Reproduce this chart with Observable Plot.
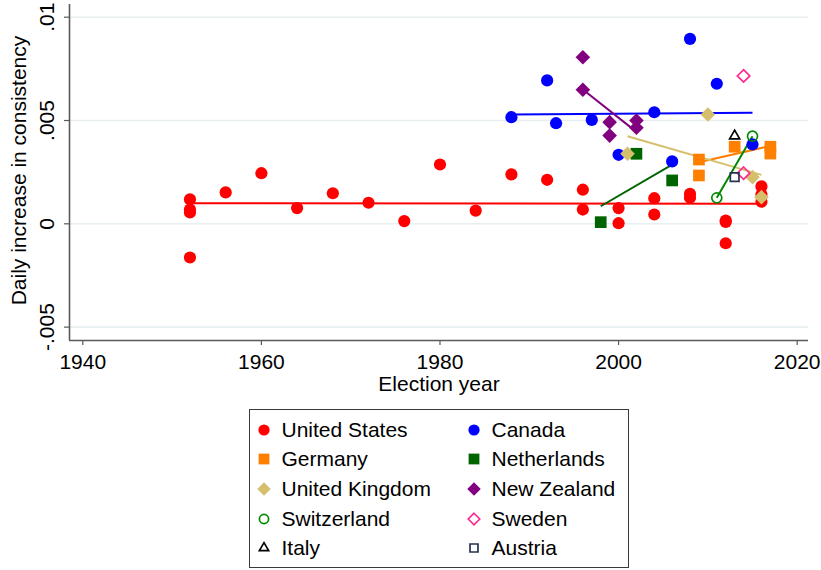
<!DOCTYPE html>
<html>
<head>
<meta charset="utf-8">
<script src="https://cdn.jsdelivr.net/npm/d3@7"></script>
<script src="https://cdn.jsdelivr.net/npm/@observablehq/plot@0.6"></script>
<style>
  html, body { margin: 0; padding: 0; background: #fff; }
  body { font-family: "Liberation Sans", Arial, Helvetica, sans-serif; }
  #wrap { position: relative; width: 821px; height: 570px; overflow: hidden; }
  #chart { position: absolute; left: 0; top: 0; }
  #legend { position: absolute; left: 249px; top: 409px; width: 380px; height: 159px;
            box-sizing: border-box; border: 1.5px solid #3a3a3a; background: #fff; }
  .lg-sym { position: absolute; width: 20px; height: 20px; overflow: visible; }
  .lg-txt { position: absolute; font-size: 21px; line-height: 1; color: #000; white-space: nowrap;
            transform: translateY(-50%); }
</style>
</head>
<body>
<div id="wrap">
  <div id="chart"></div>
  <div id="legend"></div>
</div>
<script>
// ---------------- data ----------------
const countries = ["United States", "Canada", "Germany", "Netherlands", "United Kingdom",
                   "New Zealand", "Switzerland", "Sweden", "Italy", "Austria"];

const unitedStatesYear  = [1952, 1952, 1952, 1952, 1956, 1960, 1964, 1968, 1972, 1976, 1980, 1984, 1988, 1992,
                           1996, 1996, 2000, 2000, 2004, 2004, 2008, 2008, 2012, 2012, 2012, 2016, 2016, 2016];
const unitedStatesValue = [0.00118, 0.00069, 0.00055, -0.00163, 0.00152, 0.00245, 0.00076, 0.00148, 0.00102, 0.00013,
                           0.00287, 0.00064, 0.00239, 0.00213, 0.00165, 0.00069, 0.00076, 0.00003, 0.00124, 0.00045,
                           0.00145, 0.00126, 0.00016, 0.00009, -0.00094, 0.00181, 0.00142, 0.00107];

const canadaYear  = [1988, 1992, 1993, 1997, 2000, 2004, 2006, 2008, 2011, 2015];
const canadaValue = [0.00516, 0.00694, 0.00487, 0.00503, 0.00334, 0.00540, 0.00302, 0.00895, 0.00678, 0.00384];

const germanyYear  = [2009, 2009, 2013, 2017, 2017];
const germanyValue = [0.00311, 0.00234, 0.00373, 0.00373, 0.00340];

const netherlandsYear  = [1998, 2002, 2006];
const netherlandsValue = [0.00008, 0.00339, 0.00210];

const unitedKingdomYear  = [2001, 2010, 2015, 2016];
const unitedKingdomValue = [0.00339, 0.00529, 0.00226, 0.00129];

const newZealandYear  = [1996, 1996, 1999, 1999, 2002, 2002];
const newZealandValue = [0.00806, 0.00649, 0.00492, 0.00427, 0.00500, 0.00465];

const switzerlandYear  = [2011, 2015];
const switzerlandValue = [0.00126, 0.00424];

const swedenYear  = [2014, 2014];
const swedenValue = [0.00716, 0.00245];

const italyYear  = [2013];
const italyValue = [0.00425];

const austriaYear  = [2013];
const austriaValue = [0.00226];

// fitted (linear) lines per country
const fitCountry    = ["United States", "Canada", "Germany", "Netherlands", "United Kingdom", "New Zealand", "Switzerland"];
const fitYearStart  = [1952, 1988, 2009, 1998, 2001, 1996, 2011];
const fitYearEnd    = [2016, 2015, 2017, 2006, 2016, 2002, 2015];
const fitValueStart = [0.00100, 0.00529, 0.00298, 0.00085, 0.00424, 0.00650, 0.00126];
const fitValueEnd   = [0.00097, 0.00537, 0.00377, 0.00286, 0.00237, 0.00445, 0.00424];

// axis ticks
const xTicks = [1940, 1960, 1980, 2000, 2020];
const xTickLabels = ["1940", "1960", "1980", "2000", "2020"];
const yTicks = [-0.005, 0, 0.005, 0.01];
const yTickLabels = ["-.005", "0", ".005", ".01"];
const xTitle = "Election year";
const yTitle = "Daily increase in consistency";

// ---------------- styles ----------------
const styles = {
  "United States":  {symbol: "circle",   fill: "#ff0000", stroke: "none",    r: 6.1},
  "Canada":         {symbol: "circle",   fill: "#0000ff", stroke: "none",    r: 6.1},
  "Germany":        {symbol: "square",   fill: "#ff8000", stroke: "none",    r: 6.6},
  "Netherlands":    {symbol: "square",   fill: "#006400", stroke: "none",    r: 6.6},
  "United Kingdom": {symbol: "diamond2", fill: "#d6bf6c", stroke: "none",    r: 6.6},
  "New Zealand":    {symbol: "diamond2", fill: "#800080", stroke: "none",    r: 6.6},
  "Switzerland":    {symbol: "circle",   fill: "none",    stroke: "#008a00", r: 5.0},
  "Sweden":         {symbol: "diamond2", fill: "none",    stroke: "#ff2a8f", r: 5.6},
  "Italy":          {symbol: "triangle2",fill: "none",    stroke: "#000000", r: 4.8},
  "Austria":        {symbol: "square2",  fill: "none",    stroke: "#27324f", r: 5.5}
};
const lineColors = {
  "United States": "#ff0000", "Canada": "#0000ff", "Germany": "#ff8000", "Netherlands": "#006400",
  "United Kingdom": "#d6bf6c", "New Zealand": "#800080", "Switzerland": "#008a00"
};

const series = {
  "United States": [unitedStatesYear, unitedStatesValue],
  "Canada": [canadaYear, canadaValue],
  "Germany": [germanyYear, germanyValue],
  "Netherlands": [netherlandsYear, netherlandsValue],
  "United Kingdom": [unitedKingdomYear, unitedKingdomValue],
  "New Zealand": [newZealandYear, newZealandValue],
  "Switzerland": [switzerlandYear, switzerlandValue],
  "Sweden": [swedenYear, swedenValue],
  "Italy": [italyYear, italyValue],
  "Austria": [austriaYear, austriaValue]
};

const fits = fitCountry.map((c, i) => ({
  country: c, x1: fitYearStart[i], x2: fitYearEnd[i], y1: fitValueStart[i], y2: fitValueEnd[i],
  color: lineColors[c]
}));

// ---------------- chart ----------------
const W = 821, H = 398;
const xDomain = [1938.51, 2021.27];
const yDomain = [-0.005648, 0.010615];
const axisColor = "#5a5a5a";

const dotMarks = countries.map(c => {
  const [ys, vs] = series[c];
  const rows = ys.map((y, i) => ({year: y, value: vs[i]}));
  const s = styles[c];
  return Plot.dot(rows, {
    x: "year", y: "value", symbol: s.symbol, r: s.r,
    fill: s.fill, stroke: s.stroke, strokeWidth: s.stroke === "none" ? 0 : 1.7
  });
});

const chart = Plot.plot({
  width: W, height: H,
  marginLeft: 69, marginRight: 13, marginTop: 4, marginBottom: 58,
  style: {fontFamily: '"Liberation Sans", Arial, sans-serif', fontSize: "21px", color: "#000", background: "#fff", overflow: "visible"},
  x: {domain: xDomain},
  y: {domain: yDomain},
  marks: [
    Plot.gridY(yTicks, {stroke: "#e7eff1", strokeOpacity: 1, strokeWidth: 1.6}),
    Plot.axisX(xTicks, {tickSize: 5, tickPadding: 9, stroke: axisColor, strokeWidth: 1.2, fill: "#000",
      fontSize: 21, tickFormat: d => xTickLabels[xTicks.indexOf(d)], label: null}),
    Plot.axisY(yTicks, {tickSize: 5, tickPadding: 11, tickRotate: -90, stroke: axisColor, strokeWidth: 1.2, fill: "#000",
      fontSize: 21, tickFormat: d => yTickLabels[yTicks.indexOf(d)], label: null}),
    Plot.ruleX([xDomain[0]], {stroke: axisColor, strokeWidth: 1.6}),
    Plot.ruleY([yDomain[0]], {stroke: axisColor, strokeWidth: 1.6}),
    Plot.text([xTitle], {text: d => d, frameAnchor: "bottom", dy: 44, lineAnchor: "middle", textAnchor: "middle", fontSize: 21, fill: "#000"}),
    Plot.text([yTitle], {text: d => d, frameAnchor: "left", dx: -50, dy: -2, rotate: -90, lineAnchor: "middle", textAnchor: "middle", fontSize: 21, fill: "#000"}),
    Plot.link(fits, {x1: "x1", y1: "y1", x2: "x2", y2: "y2", stroke: d => d.color, strokeWidth: 2}),
    ...dotMarks
  ],
  color: {type: "identity"}
});
document.getElementById("chart").appendChild(chart);

// ---------------- legend ----------------
const legend = document.getElementById("legend");
const symType = {circle: d3.symbolCircle, square: d3.symbolSquare, diamond2: d3.symbolDiamond2,
                 triangle2: d3.symbolTriangle2, square2: d3.symbolSquare2};
const colSym = [14.3, 223.7], colTxt = [31.5, 241.5];
countries.forEach((c, i) => {
  const col = i % 2, row = Math.floor(i / 2);
  const cy = 19.5 + row * 29.7;
  const s = styles[c];
  const svg = d3.create("svg").attr("class", "lg-sym").attr("width", 20).attr("height", 20)
    .style("left", (colSym[col] - 10) + "px").style("top", (cy - 10) + "px");
  svg.append("path")
    .attr("transform", "translate(10,10)")
    .attr("d", d3.symbol(symType[s.symbol], Math.PI * s.r * s.r * 0.85)())
    .attr("fill", s.fill).attr("stroke", s.stroke).attr("stroke-width", s.stroke === "none" ? 0 : 1.7);
  legend.appendChild(svg.node());
  const t = document.createElement("div");
  t.className = "lg-txt";
  t.style.left = colTxt[col] + "px";
  t.style.top = (cy - 1) + "px";
  t.textContent = c;
  legend.appendChild(t);
});
</script>
</body>
</html>
